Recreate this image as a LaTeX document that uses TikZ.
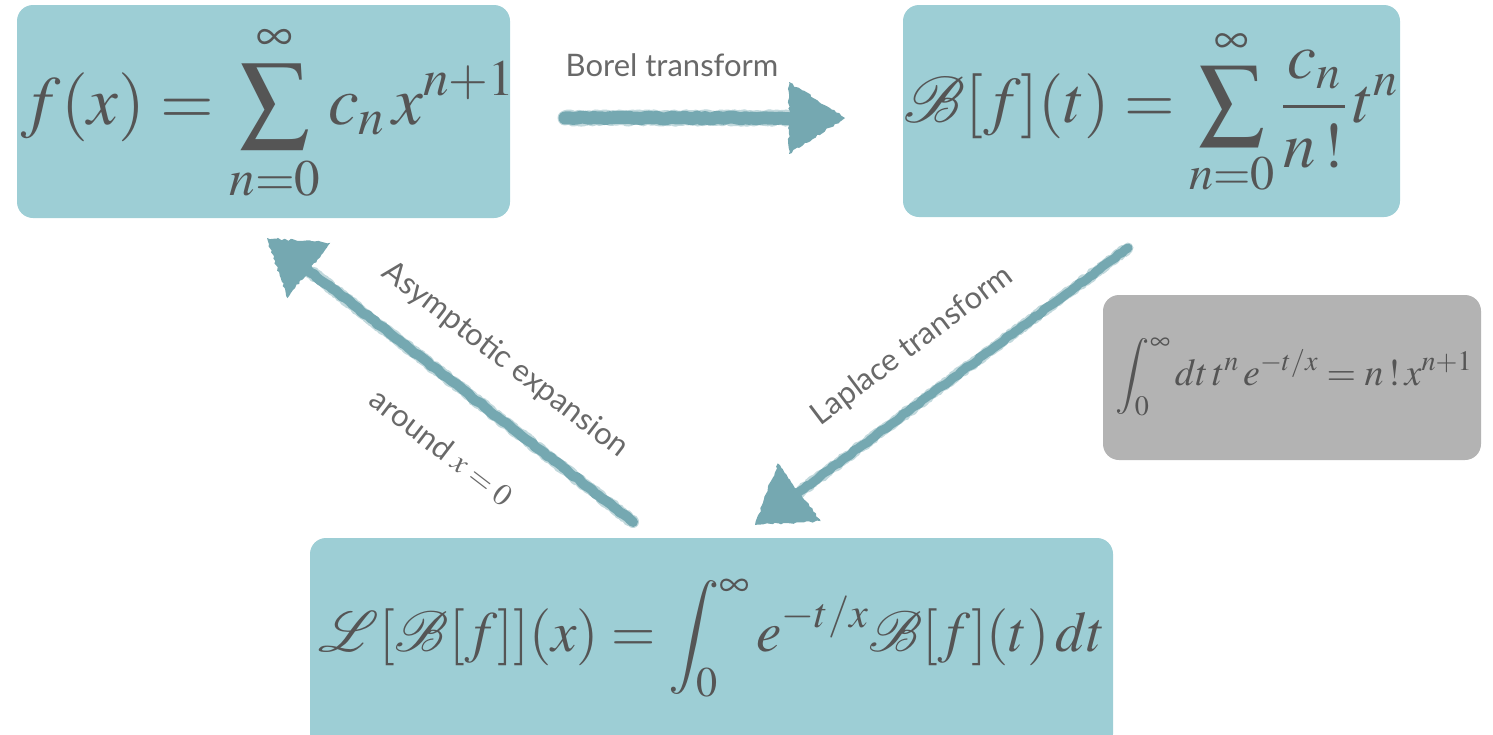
\documentclass[tikz,border=0pt]{standalone}
\usepackage{mathptmx}
\usepackage{mathrsfs}
\DeclareFontFamily{U}{rsfs}{\skewchar\font127 }
\DeclareFontShape{U}{rsfs}{m}{n}{<-6> rsfs5 <6-8> rsfs7 <8-> rsfs10}{}
\usepackage[no-math]{fontspec}
\newfontfamily\labfont{Lato}
\usetikzlibrary{calc,decorations.pathmorphing}
\definecolor{boxc}{RGB}{157,206,213}
\definecolor{grayc}{RGB}{179,179,179}
\definecolor{arrc}{RGB}{117,168,177}
\definecolor{txtc}{RGB}{85,85,85}
\definecolor{labc}{RGB}{105,105,105}
\tikzset{
  box/.style={fill=boxc, draw=none, rounded corners=16pt, inner sep=0pt},
  graybox/.style={fill=grayc, draw=none, rounded corners=16pt, inner sep=0pt},
  formula/.style={text=txtc, inner sep=0pt},
  lab/.style={text=labc, font=\labfont\fontsize{31}{36}\selectfont, inner sep=0pt},
  shaft/.style={draw=arrc, line cap=round, line join=round, decorate,
    decoration={random steps, segment length=4pt, amplitude=0.9pt}},
  head/.style={fill=arrc, line join=round, decorate,
    decoration={random steps, segment length=3pt, amplitude=1.2pt}}
}
\newcommand{\crayonarrow}[5]{%
  \coordinate (cbase) at ($(#2)!#3!(#1)$);
  \coordinate (cl) at ($(cbase)!#4!90:(#2)$);
  \coordinate (cr) at ($(cbase)!#4!-90:(#2)$);
  \draw[shaft, line width=#5] (#1) -- ($(cbase)!8pt!(#2)$);
  \draw[shaft, line width=#5+2pt, draw opacity=0.45, decoration={random steps, segment length=2pt, amplitude=1.2pt}] (#1) -- ($(cbase)!8pt!(#2)$);
  \fill[head] (cl) -- (#2) -- (cr) -- cycle;
}
\begin{document}
\begin{tikzpicture}[x=1pt,y=-1pt]
\pgfmathsetseed{7}
\useasboundingbox (0,0) rectangle (1493,734);
\clip (0,0) rectangle (1493,734);
% boxes
\node[box, minimum width=493pt, minimum height=213pt] (F) at (263.5,111.5) {};
\node[box, minimum width=497pt, minimum height=212pt] (B) at (1151.5,111) {};
\node[box, minimum width=803pt, minimum height=212pt] (L) at (711.5,644) {};
\node[graybox, minimum width=378pt, minimum height=165pt] (I) at (1292,377.5) {};
% formulas
\node[formula, font=\fontsize{69}{80}\selectfont] (fF) at (268,113)
  {$\displaystyle f(x) = \sum_{n=0}^{\infty} c_n\, x^{n+1}$};
\node[formula, font=\fontsize{65}{80}\selectfont] (fB) at (1151,112)
  {$\displaystyle \mathscr{B}[f](t) = \sum_{n=0}^{\infty} \frac{c_n}{n\,!}\, t^n$};
\node[formula, font=\fontsize{57}{70}\selectfont] (fL) at (712,638)
  {$\displaystyle \mathscr{L}[\mathscr{B}[f]](x) = \int_0^{\infty} e^{-t/x}\mathscr{B}[f](t)\, dt$};
\node[formula, font=\fontsize{38}{46}\selectfont] (fI) at (1294,377)
  {$\displaystyle \int_0^{\infty} dt\, t^n\, e^{-t/x} = n\,!\, x^{n+1}$};
% arrow end points
\coordinate (bT) at (565,118);
\coordinate (bH) at (845,118);
\coordinate (lT) at (1128,248);
\coordinate (lH) at (755,525);
\coordinate (aT) at (633,522);
\coordinate (aH) at (267,238);
\crayonarrow{bT}{bH}{56pt}{36pt}{13pt}
\crayonarrow{lT}{lH}{55pt}{36pt}{9pt}
\crayonarrow{aT}{aH}{53pt}{35pt}{10pt}
% labels
\node[lab] (lb) at (672,65) {Borel transform};
\node[lab, rotate=37] (ll) at (912,346) {Laplace transform};
\node[lab, rotate=-37.5] (la) at (505,360) {Asymptotic expansion};
\node[lab, rotate=-37.5] (lr) at (442,447) {around $x = 0$};
\end{tikzpicture}
\end{document}
